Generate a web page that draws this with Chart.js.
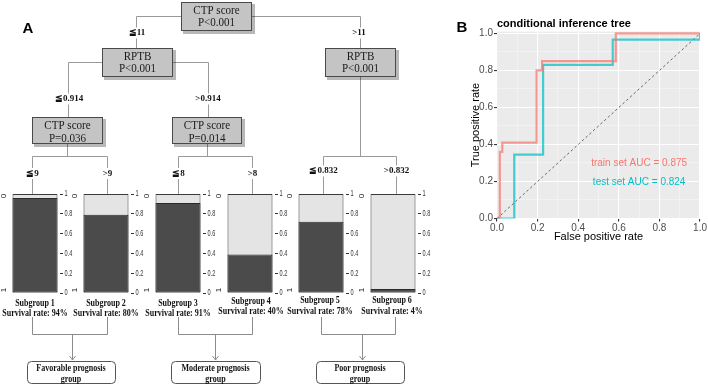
<!DOCTYPE html>
<html>
<head>
<meta charset="utf-8">
<title>Conditional inference tree</title>
<script src="https://cdn.jsdelivr.net/npm/chart.js@4.4.1/dist/chart.umd.min.js"></script>
<style>
  html, body { margin: 0; padding: 0; background: #fff; }
  #figure { position: relative; width: 708px; height: 386px; overflow: hidden; }
  #figure canvas { position: absolute; }
</style>
</head>
<body>
<div id="figure">
  <canvas id="tree" width="708" height="386" style="left:0;top:0"></canvas>
  <canvas id="roc" width="248" height="250" style="left:460px;top:0"></canvas>
</div>
<script>
// ---- data ----
const nodeVariables = ['CTP score', 'RPTB', 'RPTB', 'CTP score', 'CTP score'];
const nodePValues = ['P<0.001', 'P<0.001', 'P<0.001', 'P=0.036', 'P=0.014'];
const innerSplits = ['≦11', '>11', '≦0.914', '>0.914'];
const leafSplits = ['≦9', '>9', '≦8', '>8', '≦0.832', '>0.832'];

const subgroupNames = ['Subgroup 1', 'Subgroup 2', 'Subgroup 3', 'Subgroup 4', 'Subgroup 5', 'Subgroup 6'];
const survivalRates = ['94%', '80%', '91%', '40%', '78%', '4%'];
const darkShare = [0.96, 0.79, 0.91, 0.39, 0.72, 0.04];   // dark part of each bar
const fullShare = [1, 1, 1, 1, 1, 1];                      // light background bar
const barTicks = [0, 0.2, 0.4, 0.6, 0.8, 1];
const prognosisGroups = ['Favorable prognosis', 'Moderate prognosis', 'Poor prognosis'];

const trainFpr = [0, 0.014, 0.014, 0.026, 0.026, 0.195, 0.195, 0.222, 0.222, 0.585, 0.585, 1];
const trainTpr = [0, 0, 0.36, 0.36, 0.41, 0.41, 0.80, 0.80, 0.85, 0.85, 1, 1];
const testFpr = [0, 0.085, 0.085, 0.227, 0.227, 0.57, 0.57, 1, 1];
const testTpr = [0, 0, 0.345, 0.345, 0.83, 0.83, 0.967, 0.967, 1];
const diagFpr = [0, 1];
const diagTpr = [0, 1];
const rocGrid = [0, 0.1, 0.2, 0.3, 0.4, 0.5, 0.6, 0.7, 0.8, 0.9, 1];
const aucLabels = ['train set AUC = 0.875', 'test set AUC = 0.824'];

// ---- fonts / helpers ----
const SERIF = "'Liberation Serif', 'Times New Roman', serif";
const SANS = "'Liberation Sans', Arial, Helvetica, sans-serif";

function squeezed(ctx, str, x, y, font, sx, color, align) {
  ctx.save();
  ctx.font = font;
  ctx.fillStyle = color || '#111';
  ctx.textAlign = align || 'center';
  ctx.textBaseline = 'middle';
  ctx.translate(x, y);
  ctx.scale(sx, 1);
  ctx.fillText(str, 0, 0);
  ctx.restore();
}

function path(ctx, pts) {
  ctx.beginPath();
  ctx.moveTo(pts[0][0], pts[0][1]);
  for (let i = 1; i < pts.length; i++) ctx.lineTo(pts[i][0], pts[i][1]);
  ctx.stroke();
}

// layout of panel A (pixels)
const boxes = [
  { x: 181, y: 2, w: 71, h: 29 },
  { x: 102, y: 48, w: 71, h: 29 },
  { x: 325, y: 48, w: 71, h: 29 },
  { x: 32, y: 117, w: 71, h: 27 },
  { x: 172, y: 117, w: 70, h: 27 }
];
const barLeft = [12, 83, 155, 227, 298, 370];
const leafX = [32, 107, 178, 252, 323, 396];
const textX = [35, 106, 178, 251, 320, 392];
const textY = [303, 303, 303, 301, 300.5, 300.5];
const bracketX = [[32, 107, 72], [178, 252, 215], [321, 395, 362]];
const groupBox = [[27, 115], [171, 260], [316, 404]];

const treePlugin = {
  id: 'treeDrawing',
  afterDraw(chart) {
    const ctx = chart.ctx;
    const X = v => chart.scales.x.getPixelForValue(v);
    const Y = v => chart.scales.y.getPixelForValue(v);
    ctx.save();

    // panel letters
    ctx.fillStyle = '#000';
    ctx.font = 'bold 15px ' + SANS;
    ctx.textAlign = 'center';
    ctx.textBaseline = 'middle';
    ctx.fillText('A', X(28), Y(29));
    ctx.fillText('B', X(462), Y(28));

    // edges
    ctx.strokeStyle = '#9a9a9a';
    ctx.lineWidth = 1;
    const edges = [
      [[181, 16.5], [136.5, 16.5], [136.5, 48]],
      [[252, 16.5], [360.5, 16.5], [360.5, 48]],
      [[102, 62.5], [68.5, 62.5], [68.5, 117]],
      [[173, 62.5], [208.5, 62.5], [208.5, 117]],
      [[360.5, 77], [360.5, 156.5]],
      [[67.5, 144], [67.5, 156.5]],
      [[207.5, 144], [207.5, 156.5]],
      [[leafX[0] + .5, 156.5], [leafX[1] + .5, 156.5]],
      [[leafX[2] + .5, 156.5], [leafX[3] + .5, 156.5]],
      [[leafX[4] + .5, 156.5], [leafX[5] + .5, 156.5]]
    ];
    edges.forEach(e => path(ctx, e.map(p => [X(p[0]), Y(p[1])])));
    leafX.forEach(lx => path(ctx, [[X(lx + .5), Y(156.5)], [X(lx + .5), Y(194)]]));

    // split labels on white patches
    const labelAt = (str, x, y) => {
      ctx.font = 'bold 9px ' + SERIF;
      const w = ctx.measureText(str).width;
      ctx.fillStyle = '#fff';
      ctx.fillRect(X(x) - w / 2 - 2, Y(y) - 5.5, w + 4, 11);
      ctx.fillStyle = '#111';
      ctx.fillText(str, X(x), Y(y));
    };
    labelAt(innerSplits[0], 137, 33);
    labelAt(innerSplits[1], 359, 33);
    labelAt(innerSplits[2], 69, 99);
    labelAt(innerSplits[3], 208, 99);
    leafSplits.forEach((s, i) => labelAt(s, leafX[i] + 0.5, i >= 4 ? 171 : 173.5));

    // inner node boxes
    boxes.forEach((b, i) => {
      ctx.fillStyle = 'rgba(0,0,0,0.28)';
      ctx.fillRect(X(b.x + 2), Y(b.y + 2), b.w + 1, b.h + 1);
      ctx.fillStyle = '#c4c4c4';
      ctx.fillRect(X(b.x), Y(b.y), b.w, b.h);
      ctx.strokeStyle = '#4a4a4a';
      ctx.strokeRect(X(b.x) + 0.5, Y(b.y) + 0.5, b.w - 1, b.h - 1);
      const top = b.h > 28 ? 8.5 : 9;
      squeezed(ctx, nodeVariables[i], X(b.x + b.w / 2), Y(b.y + top), '12px ' + SERIF, 0.92, '#1a1a1a');
      squeezed(ctx, nodePValues[i], X(b.x + b.w / 2), Y(b.y + top + 12.5), '12px ' + SERIF, 0.92, '#1a1a1a');
    });

    // subgroup captions
    subgroupNames.forEach((s, i) => {
      squeezed(ctx, s, X(textX[i]), Y(textY[i]), 'bold 10px ' + SERIF, 0.8, '#111');
      squeezed(ctx, 'Survival rate: ' + survivalRates[i], X(textX[i]), Y(textY[i] + 10.5), 'bold 10px ' + SERIF, 0.8, '#111');
    });

    // brackets, arrows and group boxes
    ctx.strokeStyle = '#8c8c8c';
    bracketX.forEach(([a, b, m], i) => {
      path(ctx, [[X(a + .5), Y(317)], [X(a + .5), Y(334.5)], [X(b + .5), Y(334.5)], [X(b + .5), Y(317)]]);
      path(ctx, [[X(m + .5), Y(334.5)], [X(m + .5), Y(360)]]);
      path(ctx, [[X(m - 2.5), Y(356)], [X(m + .5), Y(360)], [X(m + 3.5), Y(356)]]);
      const [l, r] = groupBox[i];
      ctx.strokeStyle = '#555';
      ctx.beginPath();
      ctx.roundRect(X(l) + .5, Y(361) + .5, r - l, 22, 4);
      ctx.stroke();
      ctx.strokeStyle = '#8c8c8c';
      squeezed(ctx, prognosisGroups[i], X((l + r) / 2), Y(368.5), 'bold 10px ' + SERIF, 0.8, '#111');
      squeezed(ctx, 'group', X((l + r) / 2), Y(379), 'bold 10px ' + SERIF, 0.8, '#111');
    });

    ctx.restore();
  }
};

new Chart(document.getElementById('tree'), {
  type: 'scatter',
  data: { datasets: [] },
  options: {
    responsive: false,
    animation: false,
    events: [],
    layout: { padding: 0 },
    plugins: { legend: { display: false }, tooltip: { enabled: false } },
    scales: {
      x: { display: false, min: 0, max: 708 },
      y: { display: false, min: 0, max: 386, reverse: true }
    }
  },
  plugins: [treePlugin]
});

// ---- terminal node bar charts ----
// narrow tick labels of the right axis and the rotated class labels on the left
const barDecor = {
  id: 'barDecor',
  afterDraw(chart) {
    const { ctx, chartArea, scales } = chart;
    ctx.save();
    scales.y.ticks.forEach(t => {
      squeezed(ctx, String(t.value), chartArea.right + 4.5, scales.y.getPixelForValue(t.value), '9px ' + SANS, 0.62, '#333', 'left');
    });
    ctx.fillStyle = '#222';
    ctx.font = '8px ' + SANS;
    ctx.textAlign = 'center';
    ctx.textBaseline = 'middle';
    [['0', chartArea.top + 2], ['1', chartArea.bottom - 3]].forEach(([t, y]) => {
      ctx.save();
      ctx.translate(chartArea.left - 6.5, y);
      ctx.rotate(-Math.PI / 2);
      ctx.fillText(t, 0, 0);
      ctx.restore();
    });
    ctx.restore();
  }
};

subgroupNames.forEach((name, i) => {
  const cv = document.createElement('canvas');
  cv.width = 82;
  cv.height = 110;
  cv.style.left = (barLeft[i] - 12.5) + 'px';
  cv.style.top = '188px';
  document.getElementById('figure').appendChild(cv);

  new Chart(cv, {
    type: 'bar',
    data: {
      labels: [name],
      datasets: [
        { data: [darkShare[i]], backgroundColor: '#4b4b4b', borderColor: '#2a2a2a', borderWidth: 1, borderSkipped: false, grouped: false },
        { data: [fullShare[i]], backgroundColor: '#e4e4e4', borderColor: '#3a3a3a', borderWidth: 1, borderSkipped: false, grouped: false }
      ]
    },
    options: {
      responsive: false,
      animation: false,
      events: [],
      barPercentage: 0.9,
      categoryPercentage: 1,
      layout: { padding: { left: 10, top: 6, right: 2, bottom: 5 } },
      plugins: { legend: { display: false }, tooltip: { enabled: false } },
      scales: {
        x: { display: false },
        y: {
          position: 'right',
          min: 0,
          max: 1,
          afterBuildTicks: axis => { axis.ticks = barTicks.map(v => ({ value: v })); },
          afterFit: axis => { axis.width = 20; },
          border: { display: false },
          grid: { drawOnChartArea: false, drawTicks: true, tickLength: 3, tickColor: '#333' },
          ticks: { display: false, autoSkip: false }
        }
      }
    },
    plugins: [barDecor]
  });
});

// ---- ROC panel ----
const toPoints = (xs, ys) => xs.map((x, i) => ({ x: x, y: ys[i] }));
const isMajor = v => Math.round(v * 10) % 2 === 0;

const rocDecor = {
  id: 'rocDecor',
  beforeDraw(chart) {
    const { ctx, chartArea } = chart;
    ctx.save();
    ctx.fillStyle = '#ebebeb';
    ctx.fillRect(chartArea.left, chartArea.top, chartArea.right - chartArea.left, chartArea.bottom - chartArea.top);
    ctx.restore();
  },
  afterDraw(chart) {
    const { ctx, chartArea, scales } = chart;
    ctx.save();
    ctx.fillStyle = '#000';
    ctx.font = 'bold 11px ' + SANS;
    ctx.textAlign = 'left';
    ctx.textBaseline = 'middle';
    ctx.fillText('conditional inference tree', chartArea.left, 24);
    ctx.font = '10px ' + SANS;
    ctx.textAlign = 'center';
    ctx.fillStyle = '#f8766d';
    ctx.fillText(aucLabels[0], scales.x.getPixelForValue(0.7), scales.y.getPixelForValue(0.3));
    ctx.fillStyle = '#00bfc4';
    ctx.fillText(aucLabels[1], scales.x.getPixelForValue(0.7), scales.y.getPixelForValue(0.197));
    ctx.restore();
  }
};

const rocAxis = extra => Object.assign({
  type: 'linear',
  min: 0,
  afterBuildTicks: axis => { axis.ticks = rocGrid.map(v => ({ value: v })); },
  border: { display: false },
  grid: {
    color: c => isMajor(c.tick.value) ? '#ffffff' : 'rgba(255,255,255,0.75)',
    lineWidth: c => isMajor(c.tick.value) ? 1.1 : 0.5,
    tickColor: c => isMajor(c.tick.value) ? '#333333' : 'rgba(0,0,0,0)',
    tickLength: 3
  },
  ticks: {
    autoSkip: false,
    maxRotation: 0,
    color: '#4d4d4d',
    padding: 1,
    font: { size: 10, family: SANS },
    callback: v => isMajor(v) ? v.toFixed(1) : ''
  }
}, extra);

new Chart(document.getElementById('roc'), {
  type: 'scatter',
  data: {
    datasets: [
      { data: toPoints(trainFpr, trainTpr), showLine: true, borderColor: 'rgba(248,118,109,0.72)', borderWidth: 2.2, pointRadius: 0 },
      { data: toPoints(testFpr, testTpr), showLine: true, borderColor: 'rgba(0,191,196,0.72)', borderWidth: 2.2, pointRadius: 0 },
      { data: toPoints(diagFpr, diagTpr), showLine: true, borderColor: '#444', borderWidth: 0.8, borderDash: [2.5, 2.5], pointRadius: 0 }
    ]
  },
  options: {
    responsive: false,
    animation: false,
    events: [],
    layout: { padding: { top: 31.6, right: 5, left: 0, bottom: 0 } },
    plugins: { legend: { display: false }, tooltip: { enabled: false } },
    scales: {
      x: rocAxis({
        max: 1,
        afterFit: axis => { axis.height = 31.5; },
        title: { display: true, text: 'False positive rate', color: '#000', font: { size: 11, family: SANS }, padding: { top: 0, bottom: 6 } }
      }),
      y: rocAxis({
        max: 1.01,
        afterFit: axis => { axis.width = 37; },
        title: { display: true, text: 'True positive rate', color: '#000', font: { size: 11, family: SANS }, padding: { top: 9, bottom: 0 } }
      })
    }
  },
  plugins: [rocDecor]
});
</script>
</body>
</html>
